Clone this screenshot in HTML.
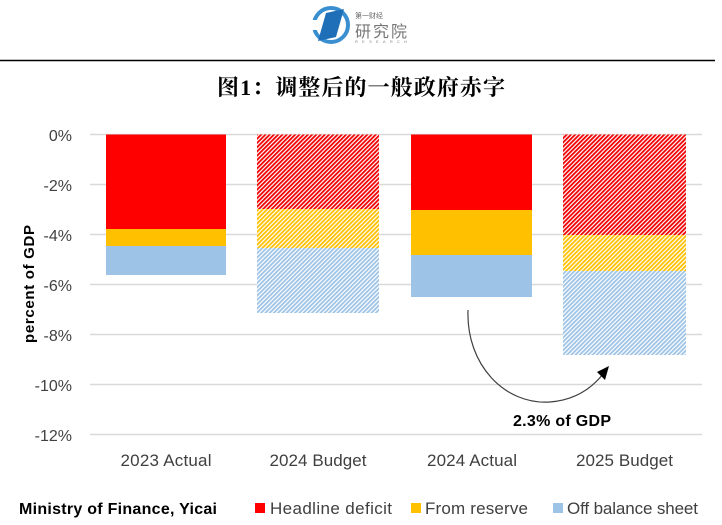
<!DOCTYPE html>
<html><head><meta charset="utf-8"><style>
html,body{margin:0;padding:0;background:#fff;}
svg{display:block;}
</style></head><body>
<svg width="722" height="525" viewBox="0 0 722 525" xmlns="http://www.w3.org/2000/svg">
<defs>
<pattern id="hr" width="3" height="3" patternUnits="userSpaceOnUse" patternTransform="rotate(45)">
<rect width="3" height="3" fill="#fff"/><rect width="1.8" height="3" fill="#F00000"/></pattern>
<pattern id="hy" width="3" height="3" patternUnits="userSpaceOnUse" patternTransform="rotate(45)">
<rect width="3" height="3" fill="#fff"/><rect width="1.8" height="3" fill="#FFC000"/></pattern>
<pattern id="hb" width="3" height="3" patternUnits="userSpaceOnUse" patternTransform="rotate(45)">
<rect width="3" height="3" fill="#fff"/><rect width="1.8" height="3" fill="#9DC3E6"/></pattern>
</defs>
<rect width="722" height="525" fill="#fff"/>

<!-- logo -->
<circle cx="331" cy="25" r="17" fill="none" stroke="#3A8FD0" stroke-width="4"/>
<rect x="312" y="20" width="10" height="10" fill="#fff"/>
<polygon points="326,13 344,9 336,37 318,41" fill="#1F6FB8"/>
<text x="355" y="18" font-family="'Liberation Sans','Noto Sans CJK SC',sans-serif" font-size="7" fill="#666">第一财经</text>
<text x="355" y="37" font-family="'Liberation Sans','Noto Sans CJK SC',sans-serif" font-size="16" fill="#777" textLength="52">研究院</text>
<text x="355" y="43" font-family="'Liberation Sans',sans-serif" font-size="4" fill="#888" textLength="52">RESEARCH</text>

<line x1="0" y1="60.5" x2="715" y2="60.5" stroke="#000" stroke-width="1.5"/>
<text x="361" y="95" text-anchor="middle" font-family="'Liberation Serif','Noto Serif CJK SC',serif" font-size="22" font-weight="bold" fill="#000" textLength="288">图1：调整后的一般政府赤字</text>

<!-- gridlines -->
<g stroke="#D9D9D9" stroke-width="1.5">
<line x1="90" y1="134.5" x2="702" y2="134.5"/>
<line x1="90" y1="184.5" x2="702" y2="184.5"/>
<line x1="90" y1="234.5" x2="702" y2="234.5"/>
<line x1="90" y1="284.5" x2="702" y2="284.5"/>
<line x1="90" y1="334.5" x2="702" y2="334.5"/>
<line x1="90" y1="384.5" x2="702" y2="384.5"/>
<line x1="90" y1="434.5" x2="702" y2="434.5"/>
</g>

<!-- y labels -->
<g font-family="'Liberation Sans',sans-serif" font-size="16" fill="#404040" text-anchor="end">
<text x="72" y="141">0%</text>
<text x="72" y="191">-2%</text>
<text x="72" y="241">-4%</text>
<text x="72" y="291">-6%</text>
<text x="72" y="341">-8%</text>
<text x="72" y="391">-10%</text>
<text x="72" y="441">-12%</text>
</g>
<text transform="translate(34,284) rotate(-90)" text-anchor="middle" font-family="'Liberation Sans',sans-serif" font-size="15" font-weight="bold" fill="#000" textLength="118">percent of GDP</text>

<!-- bars -->
<rect x="106" y="134.5" width="120" height="94.5" fill="#FF0000"/>
<rect x="106" y="229" width="120" height="17" fill="#FFC000"/>
<rect x="106" y="246" width="120" height="29" fill="#9DC3E6"/>

<rect x="257" y="134.5" width="122" height="74.5" fill="url(#hr)"/>
<rect x="257" y="209" width="122" height="39" fill="url(#hy)"/>
<rect x="257" y="248" width="122" height="65" fill="url(#hb)"/>

<rect x="411" y="134.5" width="121" height="75.5" fill="#FF0000"/>
<rect x="411" y="210" width="121" height="45" fill="#FFC000"/>
<rect x="411" y="255" width="121" height="42" fill="#9DC3E6"/>

<rect x="563" y="134.5" width="123" height="100.5" fill="url(#hr)"/>
<rect x="563" y="235" width="123" height="36" fill="url(#hy)"/>
<rect x="563" y="271" width="123" height="84" fill="url(#hb)"/>

<!-- arrow -->
<path d="M468,310 C466,365 505,405 550,402 C575,400 592,388 603,374" fill="none" stroke="#404040" stroke-width="1.2"/>
<polygon points="609,366 597,372 605,380" fill="#000"/>
<text x="562" y="426" text-anchor="middle" font-family="'Liberation Sans',sans-serif" font-size="16" font-weight="bold" fill="#000" textLength="98">2.3% of GDP</text>

<!-- x labels -->
<g font-family="'Liberation Sans',sans-serif" font-size="17" fill="#404040" text-anchor="middle">
<text x="166" y="466" textLength="91">2023 Actual</text>
<text x="318" y="466" textLength="97">2024 Budget</text>
<text x="472" y="466" textLength="90">2024 Actual</text>
<text x="624.5" y="466" textLength="97">2025 Budget</text>
</g>

<!-- legend -->
<text x="19" y="514" font-family="'Liberation Sans',sans-serif" font-size="16" font-weight="bold" fill="#000" textLength="198">Ministry of Finance, Yicai</text>
<rect x="255" y="503" width="10" height="10" fill="#FF0000"/>
<text x="270" y="514" font-family="'Liberation Sans',sans-serif" font-size="17" fill="#404040" textLength="122">Headline deficit</text>
<rect x="411" y="503" width="10" height="10" fill="#FFC000"/>
<text x="425" y="514" font-family="'Liberation Sans',sans-serif" font-size="17" fill="#404040" textLength="103">From reserve</text>
<rect x="553" y="503" width="10" height="10" fill="#9DC3E6"/>
<text x="567" y="514" font-family="'Liberation Sans',sans-serif" font-size="17" fill="#404040" textLength="131">Off balance sheet</text>
</svg>
</body></html>
